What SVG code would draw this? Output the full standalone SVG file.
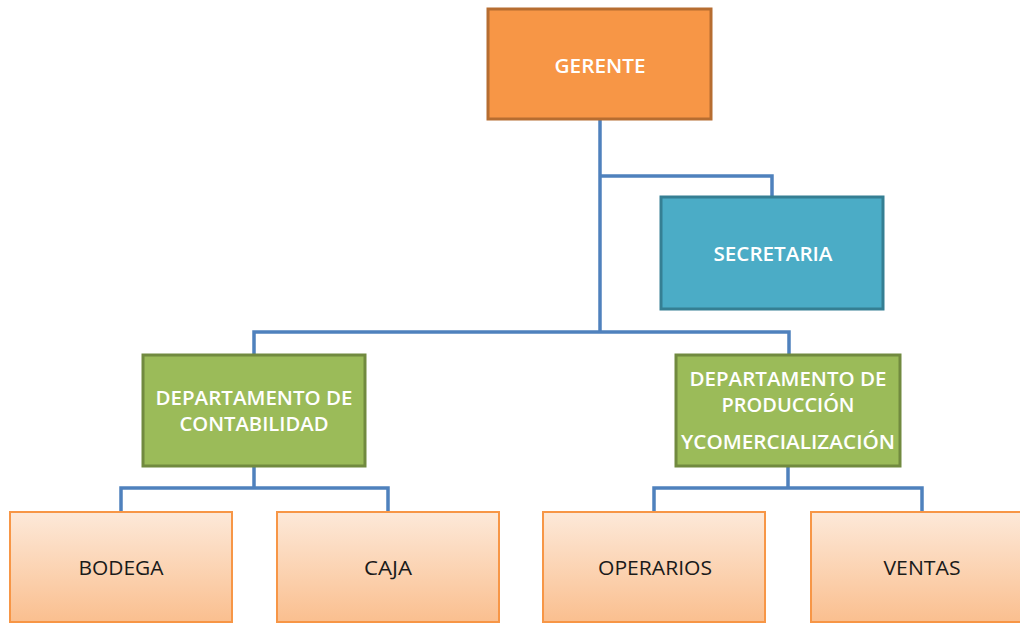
<svg xmlns="http://www.w3.org/2000/svg" width="1020" height="624" viewBox="0 0 1020 624">
<defs>
<linearGradient id="gLight" x1="0" y1="0" x2="0" y2="1">
<stop offset="0" stop-color="#fde9d9"/>
<stop offset="1" stop-color="#fabf8f"/>
</linearGradient>
<style>
.conn{fill:none;stroke:#4f81bd;stroke-width:3.5;stroke-linejoin:miter}
.wt{font-family:"Open Sans","Liberation Sans",sans-serif;font-weight:600;fill:#ffffff;text-anchor:middle;font-size:20px}
.bt{font-family:"Open Sans","Liberation Sans",sans-serif;font-weight:500;fill:#1a1a1a;text-anchor:middle;font-size:20px}
.orange{fill:#f79646;stroke:#b66d31;stroke-width:3}
.blue{fill:#4bacc6;stroke:#357f93;stroke-width:3}
.green{fill:#9bbb59;stroke:#718a3f;stroke-width:3}
.light{fill:url(#gLight);stroke:#f79646;stroke-width:2}
</style>
</defs>
<rect width="1020" height="624" fill="#ffffff"/>
<g id="connectors">
<path class="conn" d="M600 119 V331"/>
<path class="conn" d="M600 176 H772 V197"/>
<path class="conn" d="M254 354 V332 H789 V354"/>
<path class="conn" d="M254 467 V488"/>
<path class="conn" d="M121 512 V488 H388 V512"/>
<path class="conn" d="M788 467 V488"/>
<path class="conn" d="M654 512 V488 H922 V512"/>
</g>
<g id="gerente">
<rect class="orange" x="488" y="9" width="223" height="110"/>
<text class="wt" x="600" y="73" textLength="91" lengthAdjust="spacingAndGlyphs">GERENTE</text>
</g>
<g id="secretaria">
<rect class="blue" x="661" y="197" width="222" height="112"/>
<text class="wt" x="773" y="261" textLength="119" lengthAdjust="spacingAndGlyphs">SECRETARIA</text>
</g>
<g id="contabilidad">
<rect class="green" x="143" y="355" width="222" height="111"/>
<text class="wt" x="254" y="405" textLength="197" lengthAdjust="spacingAndGlyphs">DEPARTAMENTO DE</text>
<text class="wt" x="254" y="431" textLength="149" lengthAdjust="spacingAndGlyphs">CONTABILIDAD</text>
</g>
<g id="produccion">
<rect class="green" x="676" y="355" width="224" height="111"/>
<text class="wt" x="788" y="386" textLength="197" lengthAdjust="spacingAndGlyphs">DEPARTAMENTO DE</text>
<text class="wt" x="788" y="412" textLength="133" lengthAdjust="spacingAndGlyphs">PRODUCCIÓN</text>
<text class="wt" x="788" y="449" textLength="214" lengthAdjust="spacingAndGlyphs">YCOMERCIALIZACIÓN</text>
</g>
<g id="bodega">
<rect class="light" x="10" y="512" width="222" height="110"/>
<text class="bt" x="121" y="575" textLength="85" lengthAdjust="spacingAndGlyphs">BODEGA</text>
</g>
<g id="caja">
<rect class="light" x="277" y="512" width="222" height="110"/>
<text class="bt" x="388" y="575" textLength="48" lengthAdjust="spacingAndGlyphs">CAJA</text>
</g>
<g id="operarios">
<rect class="light" x="543" y="512" width="222" height="110"/>
<text class="bt" x="655" y="575" textLength="114" lengthAdjust="spacingAndGlyphs">OPERARIOS</text>
</g>
<g id="ventas">
<rect class="light" x="811" y="512" width="222" height="110"/>
<text class="bt" x="922" y="575" textLength="77" lengthAdjust="spacingAndGlyphs">VENTAS</text>
</g>
</svg>
